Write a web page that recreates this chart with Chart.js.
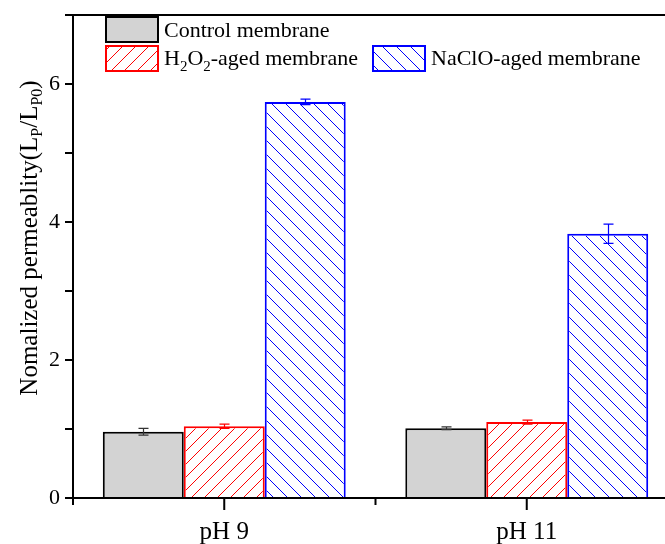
<!DOCTYPE html>
<html><head><meta charset="utf-8">
<script src="https://cdn.jsdelivr.net/npm/chart.js@4/dist/chart.umd.min.js"></script>
<style>html,body{margin:0;padding:0;overflow:hidden;background:#fff}#wrap{width:680px;height:544px}</style>
</head><body><div id="wrap"><canvas id="c" width="680" height="544"></canvas></div>
<script>
const categories = ['pH 9', 'pH 11'];
const controlValues = [0.96, 1.01];
const controlErrors = [0.05, 0.02];
const h2o2Values = [1.04, 1.10];
const h2o2Errors = [0.03, 0.03];
const nacloValues = [5.74, 3.83];
const nacloErrors = [0.04, 0.14];
const yTicks = [0, 1, 2, 3, 4, 5, 6, 7];
const yLabelTicks = [0, 2, 4, 6];

const FONT = '"Liberation Serif", "Times New Roman", serif';
const hatchSpec = [null, { color: 'rgb(255,0,0)', dir: '/', s: 13 }, { color: 'rgb(0,0,255)', dir: '\\', s: 14 }];

function drawHatch(ctx, l, t, r, b, spec) {
  ctx.save();
  ctx.globalAlpha = 1;
  ctx.globalCompositeOperation = 'source-over';
  ctx.setLineDash([]);
  ctx.beginPath(); ctx.rect(l, t, r - l, b - t); ctx.clip();
  ctx.strokeStyle = spec.color; ctx.lineWidth = 1;
  ctx.beginPath();
  const s = spec.s;
  if (spec.dir === '/') {
    const c0 = Math.floor((l + t) / s) * s;
    for (let c = c0; c <= r + b + s; c += s) { ctx.moveTo(c - b, b); ctx.lineTo(c - t, t); }
  } else {
    const c0 = Math.floor((l - b) / s) * s;
    for (let c = c0; c <= r - t + s; c += s) { ctx.moveTo(c + t, t); ctx.lineTo(c + b, b); }
  }
  ctx.stroke();
  ctx.restore();
}

const hatchPlugin = {
  id: 'hatchPlugin',
  afterDatasetsDraw(chart) {
    const ctx = chart.ctx;
    chart.data.datasets.forEach((ds, di) => {
      const spec = hatchSpec[di];
      if (!spec) return;
      chart.getDatasetMeta(di).data.forEach(bar => {
        const p = bar.getProps(['x', 'y', 'base', 'width'], true);
        const l = p.x - p.width / 2 + 2, r = p.x + p.width / 2 - 2;
        const t = Math.min(p.y, p.base) + 2, b = Math.max(p.y, p.base);
        drawHatch(ctx, l, t, r, b, spec);
      });
    });
  }
};

const errorBars = {
  id: 'errorBars',
  afterDatasetsDraw(chart) {
    const ctx = chart.ctx;
    const errs = [controlErrors, h2o2Errors, nacloErrors];
    const cols = ['#333333', '#ff0000', '#0000ff'];
    const y = chart.scales.y;
    chart.data.datasets.forEach((ds, di) => {
      const meta = chart.getDatasetMeta(di);
      meta.data.forEach((bar, i) => {
        const v = ds.data[i], e = errs[di][i];
        const x = Math.round(bar.x) + 0.5;
        const y1 = y.getPixelForValue(v + e), y2 = y.getPixelForValue(v - e);
        ctx.save();
        ctx.strokeStyle = cols[di]; ctx.lineWidth = 1.2;
        ctx.beginPath();
        ctx.moveTo(x, y1); ctx.lineTo(x, y2);
        ctx.moveTo(x - 5, y1); ctx.lineTo(x + 5, y1);
        ctx.moveTo(x - 5, y2); ctx.lineTo(x + 5, y2);
        ctx.stroke();
        ctx.restore();
      });
    });
  }
};

const axesPlugin = {
  id: 'axesPlugin',
  afterDraw(chart) {
    const ctx = chart.ctx, a = chart.chartArea;
    const x = chart.scales.x, y = chart.scales.y;
    ctx.save();
    ctx.strokeStyle = '#000'; ctx.lineWidth = 2;
    ctx.beginPath();
    ctx.moveTo(a.left, a.top); ctx.lineTo(a.right + 5, a.top);
    ctx.moveTo(a.left, a.top - 1); ctx.lineTo(a.left, a.bottom + 1);
    ctx.moveTo(a.left - 1, a.bottom); ctx.lineTo(a.right + 5, a.bottom);
    yTicks.forEach(t => {
      const py = y.getPixelForValue(t);
      ctx.moveTo(a.left - 8, py); ctx.lineTo(a.left, py);
    });
    categories.forEach((c, i) => {
      const px = x.getPixelForValue(i);
      ctx.moveTo(px, a.bottom); ctx.lineTo(px, a.bottom + 12);
      const pb = x.getPixelForValue(i - 0.5);
      ctx.moveTo(pb, a.bottom); ctx.lineTo(pb, a.bottom + 7);
    });
    ctx.stroke();

    // y title with subscripts
    ctx.fillStyle = '#000';
    ctx.translate(37, 238);
    ctx.rotate(-Math.PI / 2);
    const parts = [['Nomalized permeablity(L', 0], ['P', 1], ['/L', 0], ['P0', 1], [')', 0]];
    const big = '25px ' + FONT, small = '16px ' + FONT;
    let w = 0;
    parts.forEach(p => { ctx.font = p[1] ? small : big; w += ctx.measureText(p[0]).width; });
    let cx = -w / 2;
    ctx.textBaseline = 'alphabetic';
    parts.forEach(p => {
      ctx.font = p[1] ? small : big;
      ctx.fillText(p[0], cx, p[1] ? 5 : 0);
      cx += ctx.measureText(p[0]).width;
    });
    ctx.restore();

    // legend
    ctx.save();
    ctx.lineWidth = 2;
    ctx.fillStyle = '#d3d3d3'; ctx.fillRect(106, 17, 52, 25);
    ctx.strokeStyle = '#000'; ctx.strokeRect(106, 17, 52, 25);
    drawHatch(ctx, 107, 47, 157, 70, hatchSpec[1]);
    ctx.strokeStyle = '#ff0000'; ctx.strokeRect(106, 46, 52, 25);
    drawHatch(ctx, 374, 47, 424, 70, hatchSpec[2]);
    ctx.strokeStyle = '#0000ff'; ctx.strokeRect(373, 46, 52, 25);
    ctx.fillStyle = '#000';
    ctx.textBaseline = 'alphabetic';
    ctx.font = '22px ' + FONT;
    ctx.fillText('Control membrane', 164, 37);
    let tx = 164;
    const leg = [['H', 0], ['2', 1], ['O', 0], ['2', 1], ['-aged membrane', 0]];
    leg.forEach(p => {
      ctx.font = p[1] ? '15px ' + FONT : '22px ' + FONT;
      ctx.fillText(p[0], tx, p[1] ? 71 : 65);
      tx += ctx.measureText(p[0]).width;
    });
    ctx.font = '22px ' + FONT;
    ctx.fillText('NaClO-aged membrane', 431, 65);
    ctx.restore();
  }
};

new Chart(document.getElementById('c'), {
  type: 'bar',
  data: {
    labels: categories,
    datasets: [
      { label: 'Control membrane', data: controlValues, backgroundColor: '#d3d3d3', borderColor: '#000', borderWidth: 2 },
      { label: 'H2O2-aged membrane', data: h2o2Values, backgroundColor: '#ffffff', borderColor: '#ff0000', borderWidth: 2 },
      { label: 'NaClO-aged membrane', data: nacloValues, backgroundColor: '#ffffff', borderColor: '#0000ff', borderWidth: 2 }
    ]
  },
  options: {
    responsive: false,
    devicePixelRatio: 1,
    animation: false,
    layout: { padding: { top: 15, right: 2, left: 0, bottom: 0 } },
    plugins: { legend: { display: false }, tooltip: { enabled: false } },
    datasets: { bar: { categoryPercentage: 0.803, barPercentage: 1 } },
    scales: {
      x: {
        grid: { display: false }, border: { display: false },
        ticks: { color: '#000', font: { family: FONT, size: 25 }, padding: 11 },
        afterFit(s) { s.height = 46; s.paddingLeft = 0; s.paddingRight = 0; }
      },
      y: {
        min: 0, max: 7,
        grid: { display: false }, border: { display: false },
        afterBuildTicks(s) { s.ticks = yTicks.map(v => ({ value: v })); },
        ticks: {
          color: '#000', font: { family: FONT, size: 22 }, padding: 5,
          callback: v => yLabelTicks.includes(v) ? String(v) : ''
        },
        afterFit(s) { s.width = 73; s.paddingTop = 0; s.paddingBottom = 0; }
      }
    }
  },
  plugins: [hatchPlugin, errorBars, axesPlugin]
});
</script></body></html>
